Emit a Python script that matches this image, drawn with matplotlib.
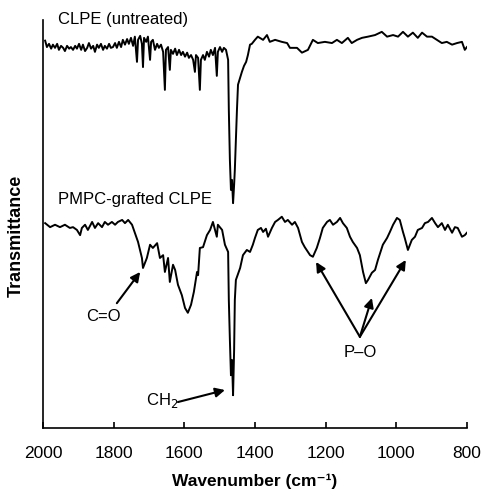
import matplotlib.pyplot as plt

plt.rcParams['font.family'] = ['Liberation Sans', 'DejaVu Sans']

# CLPE (untreated) trace, wavenumber (cm-1) vs transmittance (a.u.)
clpe_wn = [1994, 1989, 1983, 1977, 1972, 1966, 1960, 1955, 1949, 1943,
           1938, 1932, 1926, 1921, 1915, 1909, 1904, 1898, 1892, 1887,
           1881, 1875, 1870, 1864, 1858, 1853, 1847, 1842, 1836, 1830,
           1825, 1819, 1813, 1808, 1802, 1796, 1791, 1785, 1779, 1774,
           1768, 1762, 1757, 1751, 1745, 1740, 1734, 1731, 1725, 1720,
           1717, 1714, 1708, 1703, 1697, 1694, 1689, 1683, 1677, 1672,
           1666, 1660, 1655, 1652, 1646, 1641, 1638, 1632, 1626, 1621,
           1615, 1609, 1604, 1598, 1592, 1587, 1581, 1575, 1570, 1567,
           1561, 1556, 1553, 1547, 1542, 1536, 1530, 1525, 1519, 1513,
           1508, 1505, 1499, 1493, 1488, 1482, 1476, 1474, 1471, 1468,
           1465, 1462, 1459, 1457, 1454, 1451, 1448, 1442, 1437, 1431,
           1425, 1420, 1414, 1409, 1400, 1392, 1377, 1366, 1358, 1343,
           1324, 1309, 1301, 1281, 1267, 1250, 1236, 1222, 1202, 1182,
           1168, 1154, 1137, 1126, 1111, 1097, 1080, 1060, 1041, 1026,
           1009, 995, 981, 967, 953, 939, 927, 913, 899, 885,
           871, 857, 842, 828, 814, 806, 800]
clpe_t = [96.8, 95.2, 96.0, 94.8, 95.8, 95.0, 96.0, 94.5, 95.5, 95.0,
          94.2, 95.5, 94.8, 95.2, 94.5, 95.5, 94.8, 96.0, 94.5, 95.8,
          94.2, 95.0, 96.2, 94.8, 95.5, 94.0, 95.8, 95.0, 96.0, 94.5,
          95.5, 94.8, 96.0, 95.0, 95.2, 96.2, 95.0, 96.5, 95.2, 97.0,
          95.8, 97.2, 96.0, 97.5, 95.5, 97.8, 91.5, 97.0, 98.0, 96.0,
          90.2, 97.5, 96.5, 97.8, 92.0, 96.5, 97.0, 94.5, 96.0, 95.0,
          95.8, 94.0, 84.5, 94.5, 95.2, 89.5, 94.5, 93.5, 94.8, 93.2,
          94.5, 93.2, 94.0, 92.8, 93.8, 92.5, 93.2, 92.0, 89.0, 93.2,
          92.5, 84.5, 92.0, 93.2, 92.0, 94.0, 92.8, 94.5, 93.2, 95.0,
          88.0, 94.0, 95.2, 94.0, 95.0, 94.5, 92.0, 79.5, 67.0, 59.5,
          62.0, 56.2, 60.8, 64.5, 72.0, 79.5, 85.8, 87.5, 89.0, 90.5,
          91.5, 93.2, 95.8, 96.0, 97.0, 97.8, 97.0, 98.2, 96.5, 97.0,
          96.5, 96.2, 95.0, 95.0, 93.8, 94.5, 97.0, 96.2, 96.5, 96.2,
          97.0, 96.2, 97.5, 96.2, 97.0, 97.5, 97.8, 98.2, 99.0, 97.8,
          98.2, 97.8, 99.0, 97.8, 98.8, 97.5, 98.8, 97.8, 97.8, 97.0,
          96.2, 96.5, 95.8, 96.2, 96.5, 94.5, 95.2]

# PMPC-grafted CLPE trace
pmpc_wn = [1994, 1980, 1966, 1952, 1938, 1924, 1915, 1904, 1895, 1890,
           1881, 1873, 1861, 1853, 1844, 1833, 1825, 1816, 1805, 1796,
           1788, 1776, 1768, 1759, 1748, 1740, 1731, 1720, 1717, 1706,
           1697, 1689, 1677, 1669, 1660, 1655, 1646, 1641, 1632, 1626,
           1618, 1607, 1598, 1590, 1581, 1573, 1564, 1561, 1556, 1547,
           1536, 1527, 1519, 1508, 1505, 1493, 1485, 1476, 1474, 1471,
           1468, 1465, 1462, 1459, 1457, 1454,
           1442, 1434, 1423, 1414, 1406, 1400, 1392, 1383, 1377, 1369,
           1363, 1352, 1343, 1335, 1324, 1315, 1307, 1295, 1287, 1278,
           1267, 1259, 1244, 1236, 1225, 1216, 1208, 1196, 1188, 1179,
           1168, 1159, 1151, 1140, 1131, 1123, 1111, 1103, 1094, 1086,
           1080, 1069, 1060, 1052, 1038, 1026, 1018, 1009, 998, 990,
           981, 976, 967, 956, 947, 939, 927, 919, 910, 899,
           890, 882, 871, 862, 854, 842, 834, 826, 814, 806, 800]
pmpc_t = [51.2, 50.2, 50.8, 50.2, 50.8, 50.0, 50.2, 49.5, 48.2, 50.0,
          50.8, 49.5, 51.5, 50.0, 51.2, 50.2, 51.5, 50.8, 51.5, 50.8,
          51.5, 52.0, 51.2, 52.0, 50.8, 48.8, 46.5, 42.5, 40.0, 42.5,
          45.8, 45.0, 46.2, 42.5, 43.2, 39.0, 42.5, 36.5, 40.8, 39.5,
          35.8, 33.2, 30.0, 28.8, 30.8, 34.0, 39.0, 38.2, 45.0, 45.2,
          48.2, 49.5, 51.5, 47.8, 50.8, 49.5, 45.8, 44.0, 32.0, 22.0,
          13.2, 17.0, 8.2, 19.5, 32.0, 37.0,
          40.0, 43.2, 44.5, 44.0, 45.8, 47.5, 49.5, 50.0, 49.0, 49.8,
          47.8, 50.0, 51.5, 52.0, 52.8, 51.5, 52.0, 50.8, 51.5, 50.0,
          46.5, 45.2, 43.2, 42.8, 45.0, 47.5, 50.0, 51.5, 52.0, 50.8,
          51.5, 52.5, 51.2, 50.0, 47.8, 46.5, 45.0, 43.2, 39.0, 36.2,
          37.0, 38.8, 39.5, 42.0, 45.8, 47.5, 49.0, 50.8, 52.5, 52.0,
          49.0, 47.5, 44.5, 47.0, 47.8, 49.5, 50.0, 51.2, 51.5, 52.5,
          51.2, 50.2, 51.2, 49.5, 50.8, 48.8, 50.2, 50.0, 47.8, 48.2, 48.8]

xticks = [2000, 1800, 1600, 1400, 1200, 1000, 800]

fig = plt.figure(figsize=(4.85, 4.96), dpi=100)
ax = fig.add_axes([0.0887, 0.137, 0.874, 0.823])

ax.plot(clpe_wn, clpe_t, color='black', lw=1.4)
ax.plot(pmpc_wn, pmpc_t, color='black', lw=1.4)

ax.set_xlim(2000, 800)
ax.set_ylim(0, 102)
ax.set_xticks(xticks)
ax.set_yticks([])
ax.tick_params(axis='x', direction='in', length=4, width=1.2, pad=13, labelsize=12.5)
for side in ['top', 'right']:
    ax.spines[side].set_visible(False)
for side in ['left', 'bottom']:
    ax.spines[side].set_linewidth(1.2)

ax.set_xlabel('Wavenumber (cm\u207b\u00b9)', fontsize=12.5, fontweight='bold', labelpad=9)
ax.set_ylabel('Transmittance', fontsize=13, fontweight='bold')
ax.yaxis.set_label_coords(-0.042, 0.47)

ax.text(1958, 102, 'CLPE (untreated)', fontsize=12, va='center', ha='left', clip_on=False)
ax.text(1958, 57, 'PMPC-grafted CLPE', fontsize=12, va='center', ha='left')

arrow = dict(arrowstyle='-|>', mutation_scale=14, lw=1.5, color='black', shrinkA=0, shrinkB=0)

ax.annotate('', xy=(1725, 39.0), xytext=(1791, 31.2), arrowprops=arrow)
ax.text(1830, 27.8, 'C=O', fontsize=12, ha='center', va='center')

ax.annotate('', xy=(1485, 9.5), xytext=(1618, 6.5), arrowprops=arrow)
ax.text(1663, 7.0, 'CH$_2$', fontsize=12, ha='center', va='center')

for target in [(1227, 41.5), (1069, 32.5), (973, 42.0)]:
    ax.annotate('', xy=target, xytext=(1103, 22.8), arrowprops=arrow)
ax.text(1103, 18.8, 'P\u2013O', fontsize=12, ha='center', va='center')

fig.savefig('out.png', dpi=100)
